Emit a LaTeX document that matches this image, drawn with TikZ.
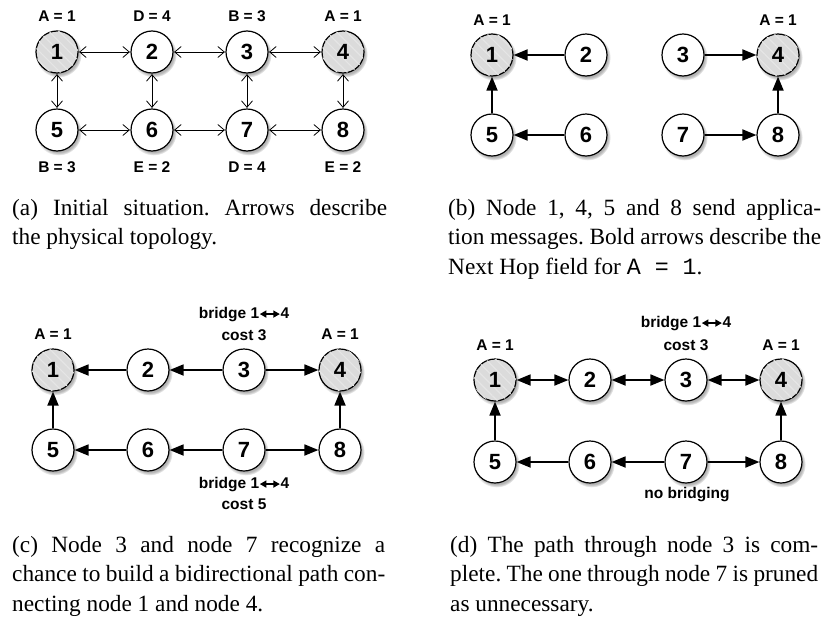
\documentclass[tikz,border=0pt]{standalone}
\usepackage{fontspec}
\setmainfont{Liberation Serif}
\setsansfont{Liberation Sans}
\setmonofont{Liberation Mono}
\usetikzlibrary{arrows.meta,shadows,patterns.meta}
\newcommand{\brarr}{\tikz[baseline=-0.6ex,x=1pt,y=1pt]\draw[line width=1.4pt,{Triangle[length=6.5pt,width=7pt]}-{Triangle[length=6.5pt,width=7pt]}] (0,0) -- (20,0);}
\newcommand{\fline}[2]{\makebox[#1][s]{#2}}
\tikzset{
  nd/.style={circle,draw=black,line width=1.2pt,minimum size=42pt,inner sep=0pt,fill=white,
    font=\sffamily\bfseries\fontsize{22}{22}\selectfont,
    circular drop shadow={shadow xshift=1.5pt,shadow yshift=-2.2pt,shadow scale=1.1,opacity=0.6}},
  src/.style={nd,fill=gray!28,postaction={pattern={Lines[angle=-45,distance=7pt,line width=1.2pt]},pattern color=white!80!gray}},
  lbl/.style={font=\sffamily\bfseries\fontsize{15.5}{16}\selectfont,inner sep=0pt},
  phys/.style={line width=0.8pt,{Straight Barb[length=6.5pt,width=11pt]}-{Straight Barb[length=6.5pt,width=11pt]},shorten <=0.5pt,shorten >=0.5pt},
  hop/.style={line width=1.8pt,-{Triangle[length=14pt,width=11pt]}},
  hopb/.style={line width=1.8pt,{Triangle[length=14pt,width=11pt]}-{Triangle[length=14pt,width=11pt]}},
  captxt/.style={anchor=north west,inner sep=0pt,align=left,
    font=\fontsize{23.3}{29.6}\selectfont\frenchspacing}
}
\begin{document}
\begin{tikzpicture}[x=1pt,y=-1pt]
\useasboundingbox (0,0) rectangle (826,616);
% ---------- (a)
\node[src] (a1) at (57,52) {1};
\node[nd]  (a2) at (152,52) {2};
\node[nd]  (a3) at (247,52) {3};
\node[src] (a4) at (343,52) {4};
\node[nd]  (a5) at (57,130) {5};
\node[nd]  (a6) at (152,130) {6};
\node[nd]  (a7) at (247,130) {7};
\node[nd]  (a8) at (343,130) {8};
\draw[phys] (a1) -- (a2); \draw[phys] (a2) -- (a3); \draw[phys] (a3) -- (a4);
\draw[phys] (a5) -- (a6); \draw[phys] (a6) -- (a7); \draw[phys] (a7) -- (a8);
\draw[phys] (a1) -- (a5); \draw[phys] (a2) -- (a6); \draw[phys] (a3) -- (a7); \draw[phys] (a4) -- (a8);
\node[lbl] (la1) at (57,16) {A = 1};
\node[lbl] (la2) at (152,16) {D = 4};
\node[lbl] (la3) at (247,16) {B = 3};
\node[lbl] (la4) at (343,16) {A = 1};
\node[lbl] (la5) at (57,167) {B = 3};
\node[lbl] (la6) at (152,167) {E = 2};
\node[lbl] (la7) at (247,167) {D = 4};
\node[lbl] (la8) at (343,167) {E = 2};
\node[captxt] (ca) at (12,199) {\fline{375pt}{(a) Initial situation. Arrows describe}\\the physical topology.};
% ---------- (b)
\node[src] (b1) at (492,55) {1};
\node[nd]  (b2) at (586,55) {2};
\node[nd]  (b3) at (683,55) {3};
\node[src] (b4) at (778,55) {4};
\node[nd]  (b5) at (492,135) {5};
\node[nd]  (b6) at (586,135) {6};
\node[nd]  (b7) at (683,135) {7};
\node[nd]  (b8) at (778,135) {8};
\draw[hop] (b2) -- (b1); \draw[hop] (b5) -- (b1); \draw[hop] (b6) -- (b5);
\draw[hop] (b3) -- (b4); \draw[hop] (b8) -- (b4); \draw[hop] (b7) -- (b8);
\node[lbl] (lb1) at (492,20) {A = 1};
\node[lbl] (lb4) at (778,20) {A = 1};
\node[captxt] (cb) at (448,199) {\fline{373pt}{(b) Node 1, 4, 5 and 8 send applica-}\\\fline{373pt}{tion messages. Bold arrows describe the}\\Next Hop field for \texttt{A = 1}.};
% ---------- (c)
\node[src] (c1) at (53,370) {1};
\node[nd]  (c2) at (148,370) {2};
\node[nd]  (c3) at (244,370) {3};
\node[src] (c4) at (340,370) {4};
\node[nd]  (c5) at (53,450) {5};
\node[nd]  (c6) at (148,450) {6};
\node[nd]  (c7) at (244,450) {7};
\node[nd]  (c8) at (340,450) {8};
\draw[hop] (c2) -- (c1); \draw[hop] (c3) -- (c2); \draw[hop] (c3) -- (c4);
\draw[hop] (c5) -- (c1); \draw[hop] (c8) -- (c4);
\draw[hop] (c6) -- (c5); \draw[hop] (c7) -- (c6); \draw[hop] (c7) -- (c8);
\node[lbl] (lc1) at (53,334) {A = 1};
\node[lbl] (lc4) at (340,334) {A = 1};
\node[lbl] (lc3a) at (244,315) {bridge 1\brarr4};
\node[lbl] (lc3b) at (244,335) {cost 3};
\node[lbl] (lc7a) at (244,485) {bridge 1\brarr4};
\node[lbl] (lc7b) at (244,504) {cost 5};
\node[captxt] (cc) at (12,536) {\fline{373pt}{(c) Node 3 and node 7 recognize a}\\\fline{373pt}{chance to build a bidirectional path con-}\\necting node 1 and node 4.};
% ---------- (d)
\node[src] (d1) at (495,380) {1};
\node[nd]  (d2) at (590,380) {2};
\node[nd]  (d3) at (686,380) {3};
\node[src] (d4) at (781,380) {4};
\node[nd]  (d5) at (495,462) {5};
\node[nd]  (d6) at (590,462) {6};
\node[nd]  (d7) at (686,462) {7};
\node[nd]  (d8) at (781,462) {8};
\draw[hopb] (d1) -- (d2); \draw[hopb] (d2) -- (d3); \draw[hopb] (d3) -- (d4);
\draw[hop] (d5) -- (d1); \draw[hop] (d8) -- (d4);
\draw[hop] (d6) -- (d5); \draw[hop] (d7) -- (d6); \draw[hop] (d7) -- (d8);
\node[lbl] (ld1) at (495,345) {A = 1};
\node[lbl] (ld4) at (781,345) {A = 1};
\node[lbl] (ld3a) at (686,324) {bridge 1\brarr4};
\node[lbl] (ld3b) at (686,345) {cost 3};
\node[lbl] (ld7) at (687,495) {no bridging};
\node[captxt] (cd) at (450,536) {\fline{368pt}{(d) The path through node 3 is com-}\\\fline{368pt}{plete. The one through node 7 is pruned}\\as unnecessary.};
\end{tikzpicture}
\end{document}
